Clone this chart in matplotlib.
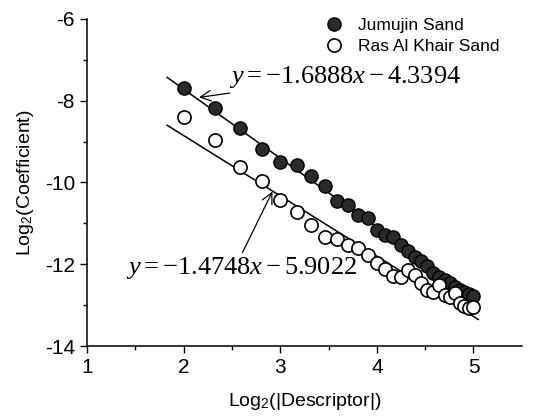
import numpy as np
import matplotlib
matplotlib.use('Agg')
import matplotlib.pyplot as plt

plt.rcParams['font.family'] = ['Liberation Sans', 'DejaVu Sans']
plt.rcParams['axes.unicode_minus'] = False
plt.rcParams['mathtext.fontset'] = 'custom'
plt.rcParams['mathtext.rm'] = 'Liberation Serif'
plt.rcParams['mathtext.it'] = 'Liberation Serif:italic'

# Data (x = log2 of descriptor size 4..32)
sizes = list(range(4, 33))
jumujin = [-7.68, -8.19, -8.68, -9.17, -9.51, -9.57, -9.84, -10.08, -10.45, -10.55,
           -10.80, -10.88, -11.17, -11.28, -11.34, -11.53, -11.68, -11.82, -11.93, -12.05,
           -12.22, -12.30, -12.38, -12.45, -12.55, -12.62, -12.68, -12.72, -12.78]
ras_al_khair = [-8.41, -8.97, -9.62, -9.97, -10.43, -10.72, -11.04, -11.34, -11.39, -11.53,
                -11.61, -11.78, -11.98, -12.12, -12.28, -12.31, -12.14, -12.27, -12.45, -12.63,
                -12.68, -12.50, -12.76, -12.80, -12.70, -12.95, -13.02, -13.06, -13.05]

# fitted lines (slope, intercept) and drawn range
fit_j = (-1.6888, -4.3394)
fit_r = (-1.4748, -5.9022)
fit_range_j = (1.83, 5.02)
fit_range_r = (1.83, 5.05)

x = np.log2(sizes)

fig = plt.figure(figsize=(5.33, 4.19), dpi=100)
ax = fig.add_axes([0.163, 0.174, 0.816, 0.781])

ax.plot(x, jumujin, 'o', ms=9.5, mfc='#2b2b2b', mec='black', mew=1.0, label='Jumujin Sand', zorder=3)
ax.plot(x, ras_al_khair, 'o', ms=9.5, mfc='white', mec='black', mew=1.2, label='Ras Al Khair Sand', zorder=3)

xl = np.array(fit_range_j)
ax.plot(xl, fit_j[0] * xl + fit_j[1], color='black', lw=1.1, zorder=2)
xl = np.array(fit_range_r)
ax.plot(xl, fit_r[0] * xl + fit_r[1], color='black', lw=1.1, zorder=2)

# equations with arrows
eq1 = r'$y = -\mathrm{1.6888}x - \mathrm{4.3394}$'
eq2 = r'$y = -\mathrm{1.4748}x - \mathrm{5.9022}$'
ax.annotate(eq1, xy=(2.16, -7.92), xytext=(2.47, -7.42),
            fontsize=19, va='center', ha='left',
            arrowprops=dict(arrowstyle='->', color='black', lw=0.9, shrinkA=2, shrinkB=0))
ax.annotate(eq2, xy=(2.92, -10.22), xytext=(1.40, -12.10),
            fontsize=19, va='center', ha='left',
            arrowprops=dict(arrowstyle='->', color='black', lw=0.9, shrinkA=0, shrinkB=0,
                            relpos=(0.5, 1.0)))

ax.set_xlim(1, 5.5)
ax.set_ylim(-14, -6)
ax.set_xticks([1, 2, 3, 4, 5])
ax.set_yticks([-14, -12, -10, -8, -6])
ax.set_xticks(np.arange(1.5, 5.5, 1.0), minor=True)
ax.set_yticks([-13, -11, -9, -7], minor=True)
ax.tick_params(which='major', direction='out', length=5, width=1, labelsize=15, colors='black')
ax.tick_params(which='minor', direction='out', length=3, width=1)

for s in ['top', 'right']:
    ax.spines[s].set_visible(False)
for s in ['left', 'bottom']:
    ax.spines[s].set_linewidth(1.1)

ax.set_xlabel(r'Log$_\mathregular{2}$(|Descriptor|)', fontsize=14, labelpad=10)
ax.set_ylabel(r'Log$_\mathregular{2}$(Coefficient)', fontsize=14, labelpad=6)

ax.legend(loc='upper right', bbox_to_anchor=(0.985, 1.05), frameon=False, fontsize=12.5,
          handletextpad=0.8, labelspacing=0.35, handlelength=1.2)

fig.savefig('out.png', dpi=100)
